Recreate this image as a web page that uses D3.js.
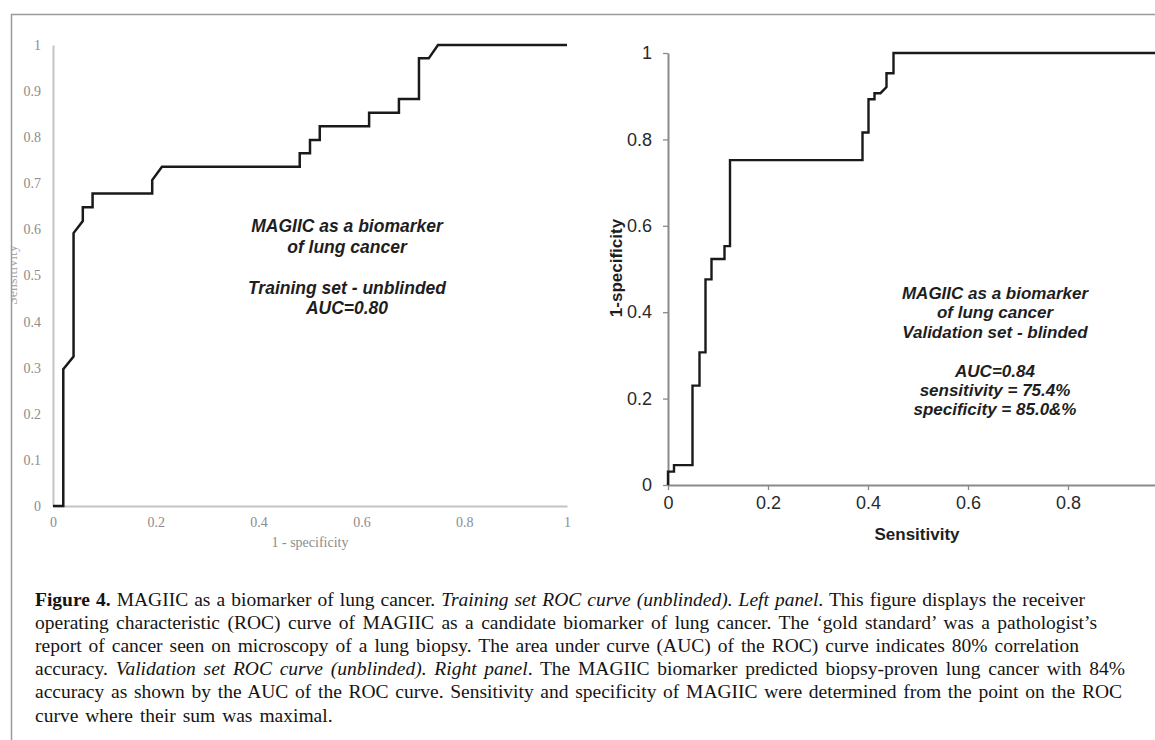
<!DOCTYPE html>
<html>
<head>
<meta charset="utf-8">
<script src="https://cdn.jsdelivr.net/npm/d3@7"></script>
<style>
  body { margin: 0; background: #fff; }
  svg { display: block; }
</style>
</head>
<body>
<div id="figure"></div>
<script>
// ROC curves

// training set (left panel): x = 1 - specificity, y = sensitivity
var trainFpr = [0, 0.02, 0.02, 0.04, 0.04, 0.058, 0.058, 0.077, 0.077, 0.193, 0.193, 0.212, 0.48, 0.48, 0.50, 0.50, 0.519, 0.519, 0.615, 0.615, 0.673, 0.673, 0.712, 0.712, 0.731, 0.749, 1];
var trainTpr = [0, 0, 0.297, 0.324, 0.592, 0.618, 0.648, 0.648, 0.678, 0.678, 0.707, 0.736, 0.736, 0.765, 0.765, 0.794, 0.794, 0.824, 0.824, 0.853, 0.853, 0.883, 0.883, 0.971, 0.971, 1, 1];

// validation set (right panel): x = sensitivity, y = 1-specificity (as labelled)
var validX = [0, 0, 0.012, 0.012, 0.049, 0.049, 0.063, 0.063, 0.075, 0.075, 0.087, 0.087, 0.113, 0.113, 0.124, 0.124, 0.389, 0.389, 0.401, 0.401, 0.413, 0.413, 0.425, 0.437, 0.437, 0.451, 0.451, 1];
var validY = [0, 0.031, 0.031, 0.046, 0.046, 0.23, 0.23, 0.307, 0.307, 0.476, 0.476, 0.523, 0.523, 0.553, 0.553, 0.752, 0.752, 0.816, 0.816, 0.893, 0.893, 0.907, 0.907, 0.921, 0.953, 0.953, 1, 1];

var leftYTicks = [0, 0.1, 0.2, 0.3, 0.4, 0.5, 0.6, 0.7, 0.8, 0.9, 1];
var leftXTicks = [0, 0.2, 0.4, 0.6, 0.8, 1];
var rightYTicks = [0, 0.2, 0.4, 0.6, 0.8, 1];
var rightXTicks = [0, 0.2, 0.4, 0.6, 0.8];

var leftTitleX = '1 - specificity';
var leftTitleY = 'Sensitivity';
var rightTitleX = 'Sensitivity';
var rightTitleY = '1-specificity';

var leftNote = ['MAGIIC as a biomarker', 'of lung cancer', '', 'Training set - unblinded', 'AUC=0.80'];
var rightNote = ['MAGIIC as a biomarker', 'of lung cancer', 'Validation set - blinded', '', 'AUC=0.84', 'sensitivity = 75.4%', 'specificity = 85.0&%'];

// caption: each line is a list of [text, style] runs
var captionLines = [
  [['Figure 4.', 'b'], [' MAGIIC as a biomarker of lung cancer. ', ''], ['Training set ROC curve (unblinded). Left panel', 'i'], ['. This figure displays the receiver', '']],
  [['operating characteristic (ROC) curve of MAGIIC as a candidate biomarker of lung cancer. The \u2018gold standard\u2019 was a pathologist\u2019s', '']],
  [['report of cancer seen on microscopy of a lung biopsy. The area under curve (AUC) of the ROC) curve indicates 80% correlation', '']],
  [['accuracy. ', ''], ['Validation set ROC curve (unblinded). Right panel', 'i'], ['. The MAGIIC biomarker predicted biopsy-proven lung cancer with 84%', '']],
  [['accuracy as shown by the AUC of the ROC curve. Sensitivity and specificity of MAGIIC were determined from the point on the ROC', '']],
  [['curve where their sum was maximal.', '']]
];
var captionWidths = [1050, 1062, 1044, 1090, 1087, null];

var width = 1155,
    height = 740;

var svg = d3.select('#figure').append('svg')
  .attr('width', width)
  .attr('height', height);

// frame
svg.append('path')
  .attr('d', 'M11.5,' + height + 'V14.5H' + width)
  .attr('fill', 'none')
  .attr('stroke', '#9a9a9a')
  .attr('stroke-width', 1.5);

var serif = '"Liberation Serif", "Times New Roman", serif';
var sans = '"Liberation Sans", Arial, sans-serif';

// ---------- left panel ----------
var xL = d3.scaleLinear().domain([0, 1]).range([53, 567]);
var yL = d3.scaleLinear().domain([0, 1]).range([506, 45]);

var left = svg.append('g');

var axL = left.append('g')
  .attr('transform', 'translate(' + xL(0) + ',0)')
  .call(d3.axisLeft(yL).tickValues(leftYTicks).tickFormat(d3.format('~g')).tickSize(0).tickPadding(12).tickSizeOuter(0));

var axB = left.append('g')
  .attr('transform', 'translate(0,' + yL(0) + ')')
  .call(d3.axisBottom(xL).tickValues(leftXTicks).tickFormat(d3.format('~g')).tickSize(0).tickPadding(11).tickSizeOuter(0));

[axL, axB].forEach(function(ax) {
  ax.attr('font-size', null);
  ax.select('.domain').attr('stroke', '#c4c4c4').attr('stroke-width', 2);
  ax.selectAll('text')
    .attr('fill', '#8c8c8c')
    .style('font-family', serif)
    .style('font-size', '14px');
});

left.append('text')
  .attr('x', (xL(0) + xL(1)) / 2)
  .attr('y', 547)
  .attr('text-anchor', 'middle')
  .attr('fill', '#8c8c8c')
  .style('font-family', serif)
  .style('font-size', '14px')
  .text(leftTitleX);

// the y title of this panel is cut by the frame in the original
svg.append('clipPath').attr('id', 'clipTitle')
  .append('rect').attr('x', 12).attr('y', 0).attr('width', 40).attr('height', height);

left.append('g')
  .attr('clip-path', 'url(#clipTitle)')
  .append('text')
    .attr('transform', 'translate(17,275) rotate(-90)')
    .attr('text-anchor', 'middle')
    .attr('fill', '#a6a6a6')
    .style('font-family', serif)
    .style('font-size', '14px')
    .text(leftTitleY);

var lineL = d3.line()
  .x(function(d) { return xL(d[0]); })
  .y(function(d) { return yL(d[1]); });

left.append('path')
  .datum(d3.zip(trainFpr, trainTpr))
  .attr('d', lineL)
  .attr('fill', 'none')
  .attr('stroke', '#1a1a1a')
  .attr('stroke-width', 2.5);

left.append('text')
  .attr('text-anchor', 'middle')
  .attr('fill', '#1e1e1e')
  .style('font-family', sans)
  .style('font-size', '17.5px')
  .style('font-weight', 'bold')
  .style('font-style', 'italic')
  .selectAll('tspan')
  .data(leftNote)
  .enter().append('tspan')
    .attr('x', 347)
    .attr('y', function(d, i) { return 232 + i * 20.5; })
    .text(function(d) { return d; });

// ---------- right panel ----------
var xR = d3.scaleLinear().domain([0, 1]).range([668, 1168]);
var yR = d3.scaleLinear().domain([0, 1]).range([485, 53]);

var right = svg.append('g');

var axRL = right.append('g')
  .attr('transform', 'translate(' + xR(0) + ',0)')
  .call(d3.axisLeft(yR).tickValues(rightYTicks).tickFormat(d3.format('~g')).tickSize(5).tickPadding(11).tickSizeOuter(0));

var axRB = right.append('g')
  .attr('transform', 'translate(0,' + yR(0) + ')')
  .call(d3.axisBottom(xR).tickValues(rightXTicks).tickFormat(d3.format('~g')).tickSize(5).tickPadding(6).tickSizeOuter(0));

[axRL, axRB].forEach(function(ax) {
  ax.select('.domain').attr('stroke', '#8a8a8a').attr('stroke-width', 2);
  ax.selectAll('.tick line').attr('stroke', '#8a8a8a').attr('stroke-width', 1.3);
  ax.selectAll('text')
    .attr('fill', '#2a2a2a')
    .style('font-family', sans)
    .style('font-size', '18px');
});

right.append('text')
  .attr('x', 917)
  .attr('y', 540)
  .attr('text-anchor', 'middle')
  .attr('fill', '#1e1e1e')
  .style('font-family', sans)
  .style('font-size', '17px')
  .style('font-weight', 'bold')
  .text(rightTitleX);

right.append('text')
  .attr('transform', 'translate(622,268) rotate(-90)')
  .attr('text-anchor', 'middle')
  .attr('fill', '#1e1e1e')
  .style('font-family', sans)
  .style('font-size', '17px')
  .style('font-weight', 'bold')
  .text(rightTitleY);

var lineR = d3.line()
  .x(function(d) { return xR(d[0]); })
  .y(function(d) { return yR(d[1]); });

right.append('path')
  .datum(d3.zip(validX, validY))
  .attr('d', lineR)
  .attr('fill', 'none')
  .attr('stroke', '#1a1a1a')
  .attr('stroke-width', 2.4);

right.append('text')
  .attr('text-anchor', 'middle')
  .attr('fill', '#1e1e1e')
  .style('font-family', sans)
  .style('font-size', '17px')
  .style('font-weight', 'bold')
  .style('font-style', 'italic')
  .selectAll('tspan')
  .data(rightNote)
  .enter().append('tspan')
    .attr('x', 995)
    .attr('y', function(d, i) { return 299 + i * 19.4; })
    .text(function(d) { return d; });

// ---------- caption ----------
var cap = svg.append('g')
  .style('font-family', serif)
  .style('font-size', '19.5px')
  .attr('fill', '#141414');

var spacings = [];

captionLines.forEach(function(runs, i) {
  var t = cap.append('text')
    .attr('x', 35)
    .attr('y', 606 + i * 23.1);

  runs.forEach(function(run) {
    t.append('tspan')
      .style('font-weight', run[1] === 'b' ? 'bold' : 'normal')
      .style('font-style', run[1] === 'i' ? 'italic' : 'normal')
      .text(run[0]);
  });

  // stretch or squeeze the word gaps so each line ends where it does in the original
  var target = captionWidths[i];
  if (target) {
    var natural = t.node().getComputedTextLength();
    var gaps = runs.map(function(r) { return r[0]; }).join('').split(' ').length - 1;
    var ws = (target - natural) / gaps;
    spacings.push(ws);
    t.style('word-spacing', ws + 'px');
  } else {
    t.style('word-spacing', d3.mean(spacings) + 'px');
  }
});
</script>
</body>
</html>
